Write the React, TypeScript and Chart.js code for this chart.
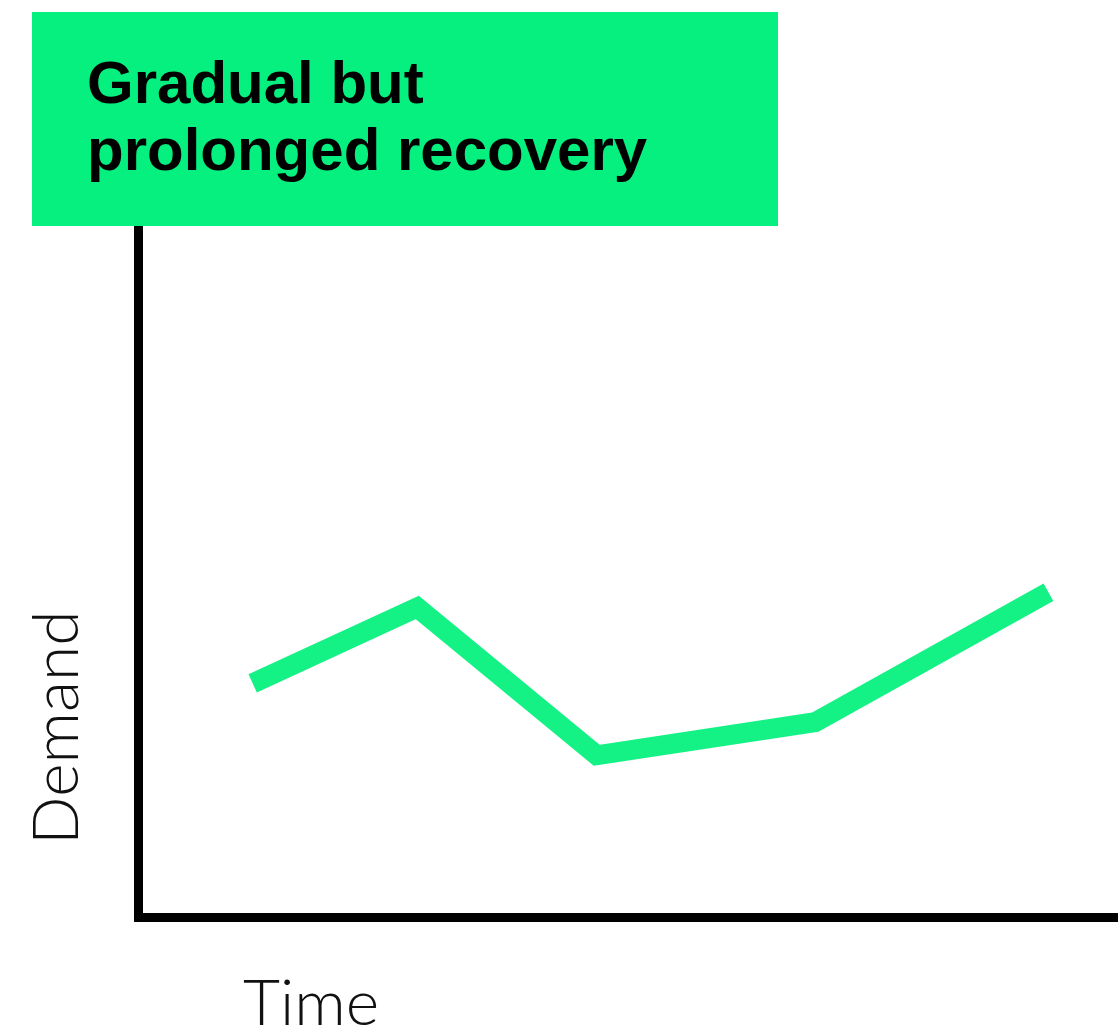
import React, { useEffect, useRef } from "react";
import { Chart, registerables } from "chart.js";

Chart.register(...registerables);

const titleLines = ["Gradual but", "prolonged recovery"];
const xAxisLabel = "Time";
const yAxisLabel = "Demand";
const timeValues = [11.7, 28.5, 46.8, 69.1, 92.9];
const demandValues = [33.8, 44.8, 23.4, 28.2, 47.0];

const BOX_GREEN = "#05F07F";
const LINE_GREEN = "#14F286";

const overlayPlugin = {
  id: "overlay",
  afterDraw(chart: any) {
    const ctx = chart.ctx as CanvasRenderingContext2D;
    ctx.save();
    // title box
    ctx.fillStyle = BOX_GREEN;
    ctx.fillRect(32, 12, 746, 214);
    ctx.fillStyle = "#000";
    ctx.font = "bold 60px 'Liberation Sans', Arial, sans-serif";
    ctx.textBaseline = "alphabetic";
    ctx.textAlign = "left";
    ctx.fillText(titleLines[0], 87, 103);
    ctx.fillText(titleLines[1], 87, 170);
    // axis labels
    ctx.font = "300 64px Lato, 'Open Sans', sans-serif";
    ctx.fillStyle = "#111";
    ctx.fillText(xAxisLabel, 243, 1025);
    ctx.save();
    ctx.translate(78, 845);
    ctx.rotate(-Math.PI / 2);
    ctx.fillText(yAxisLabel, 0, 0);
    ctx.restore();
    ctx.restore();
  },
};

export default function App() {
  const ref = useRef<HTMLCanvasElement | null>(null);
  useEffect(() => {
    if (!ref.current) return;
    const chart = new Chart(ref.current, {
      type: "line",
      data: {
        datasets: [
          {
            data: timeValues.map((x, i) => ({ x, y: demandValues[i] })),
            borderColor: LINE_GREEN,
            borderWidth: 20,
            pointRadius: 0,
            tension: 0,
            borderCapStyle: "butt",
            borderJoinStyle: "miter",
            fill: false,
          },
        ],
      },
      options: {
        responsive: false,
        animation: false,
        layout: { padding: { left: 138, top: 226, right: 0, bottom: 119 } },
        plugins: {
          legend: { display: false },
          tooltip: { enabled: false },
          title: { display: false },
        },
        scales: {
          x: {
            type: "linear",
            min: 0,
            max: 100,
            ticks: { display: false },
            grid: { display: false, drawTicks: false },
            border: { display: true, color: "#000", width: 9 },
          },
          y: {
            type: "linear",
            min: 0,
            max: 100,
            ticks: { display: false },
            grid: { display: false, drawTicks: false },
            border: { display: true, color: "#000", width: 9 },
          },
        },
      },
      plugins: [overlayPlugin],
    });
    return () => chart.destroy();
  }, []);
  return (
    <div style={{ position: "absolute", left: 0, top: 0, width: 1118, height: 1036, background: "#fff" }}>
      <canvas ref={ref} width={1118} height={1036} />
    </div>
  );
}
